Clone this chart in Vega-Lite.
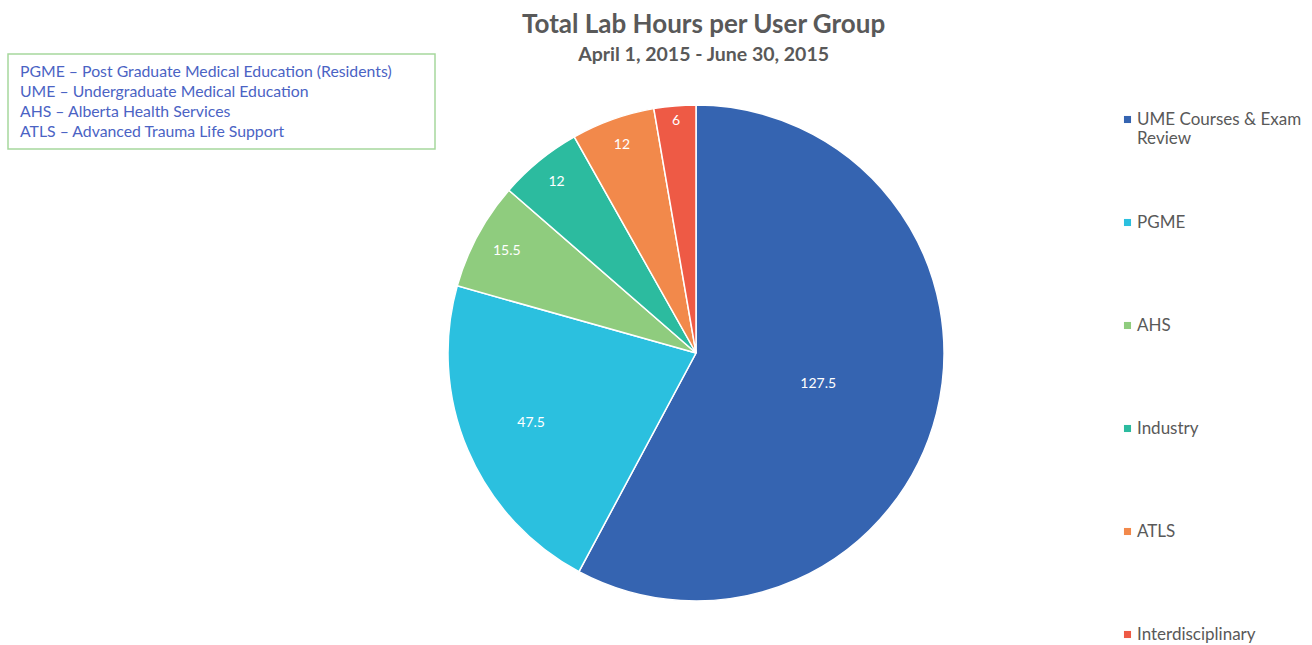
{
  "$schema": "https://vega.github.io/schema/vega-lite/v6.json",
  "background": "white",
  "padding": {"left": 7, "top": 11, "right": 0, "bottom": 0},
  "title": {
    "text": "Total Lab Hours per User Group",
    "subtitle": "April 1, 2015 - June 30, 2015",
    "anchor": "middle",
    "dx": 49,
    "offset": -11,
    "font": "Lato",
    "fontSize": 26,
    "fontWeight": "bold",
    "color": "#595959",
    "subtitleFont": "Lato",
    "subtitleFontSize": 19.5,
    "subtitleFontWeight": "bold",
    "subtitleColor": "#595959",
    "subtitlePadding": 8
  },
  "spacing": 9,
  "hconcat": [
    {
      "width": 427,
      "height": 95,
      "view": {"stroke": "#a6d89d", "strokeWidth": 1.5},
      "data": {"values": [
        {"line": "PGME – Post Graduate Medical Education (Residents)", "row": 1},
        {"line": "UME – Undergraduate Medical Education", "row": 2},
        {"line": "AHS – Alberta Health Services", "row": 3},
        {"line": "ATLS – Advanced Trauma Life Support", "row": 4}
      ]},
      "mark": {"type": "text", "align": "left", "baseline": "middle", "font": "Lato", "fontSize": 15.8, "color": "#4b63c4", "dx": 12},
      "encoding": {
        "y": {"field": "row", "type": "ordinal", "axis": null, "scale": {"type": "point", "padding": 0.875}},
        "x": {"value": 0},
        "text": {"field": "line"}
      }
    },
    {
      "width": 496,
      "height": 598,
      "view": {"stroke": null},
      "data": {"values": [
        {"group": "UME Courses & Exam Review", "hours": 127.5, "rank": 1},
        {"group": "PGME", "hours": 47.5, "rank": 2},
        {"group": "AHS", "hours": 15.5, "rank": 3},
        {"group": "Industry", "hours": 12, "rank": 4},
        {"group": "ATLS", "hours": 12, "rank": 5},
        {"group": "Interdisciplinary", "hours": 6, "rank": 6}
      ]},
      "encoding": {
        "theta": {"field": "hours", "type": "quantitative", "stack": true},
        "order": {"field": "rank", "type": "quantitative"}
      },
      "layer": [
        {
          "mark": {"type": "arc", "outerRadius": 248, "stroke": "white", "strokeWidth": 1.5},
          "encoding": {
            "color": {
              "field": "group",
              "type": "nominal",
              "sort": ["UME Courses & Exam Review", "PGME", "AHS", "Industry", "ATLS", "Interdisciplinary"],
              "scale": {
                "domain": ["UME Courses & Exam Review", "PGME", "AHS", "Industry", "ATLS", "Interdisciplinary"],
                "range": ["#3564b1", "#2bc0df", "#8fcc7e", "#2cbb9f", "#f2894b", "#ee5a45"]
              },
              "legend": {
                "title": null,
                "orient": "none",
                "legendX": 1111,
                "legendY": 57,
                "columns": 1,
                "gridAlign": "all",
                "labelFont": "Lato",
                "labelFontSize": 17,
                "labelColor": "#595959",
                "labelLimit": 300,
                "symbolType": "square",
                "symbolSize": 50,
                "symbolStrokeWidth": 0,
                "labelOffset": 1,
                "rowPadding": 66,
                "labelExpr": "datum.label == 'UME Courses & Exam Review' ? ['UME Courses & Exam', 'Review'] : datum.label"
              }
            }
          }
        },
        {
          "mark": {"type": "text", "color": "white", "font": "Lato", "fontSize": 14},
          "encoding": {
            "text": {"field": "hours", "type": "nominal"},
            "radius": {"field": "hours", "type": "quantitative", "scale": {"type": "sqrt", "domain": [6, 127.5], "range": [233, 126], "zero": false}}
          }
        }
      ]
    }
  ]
}
